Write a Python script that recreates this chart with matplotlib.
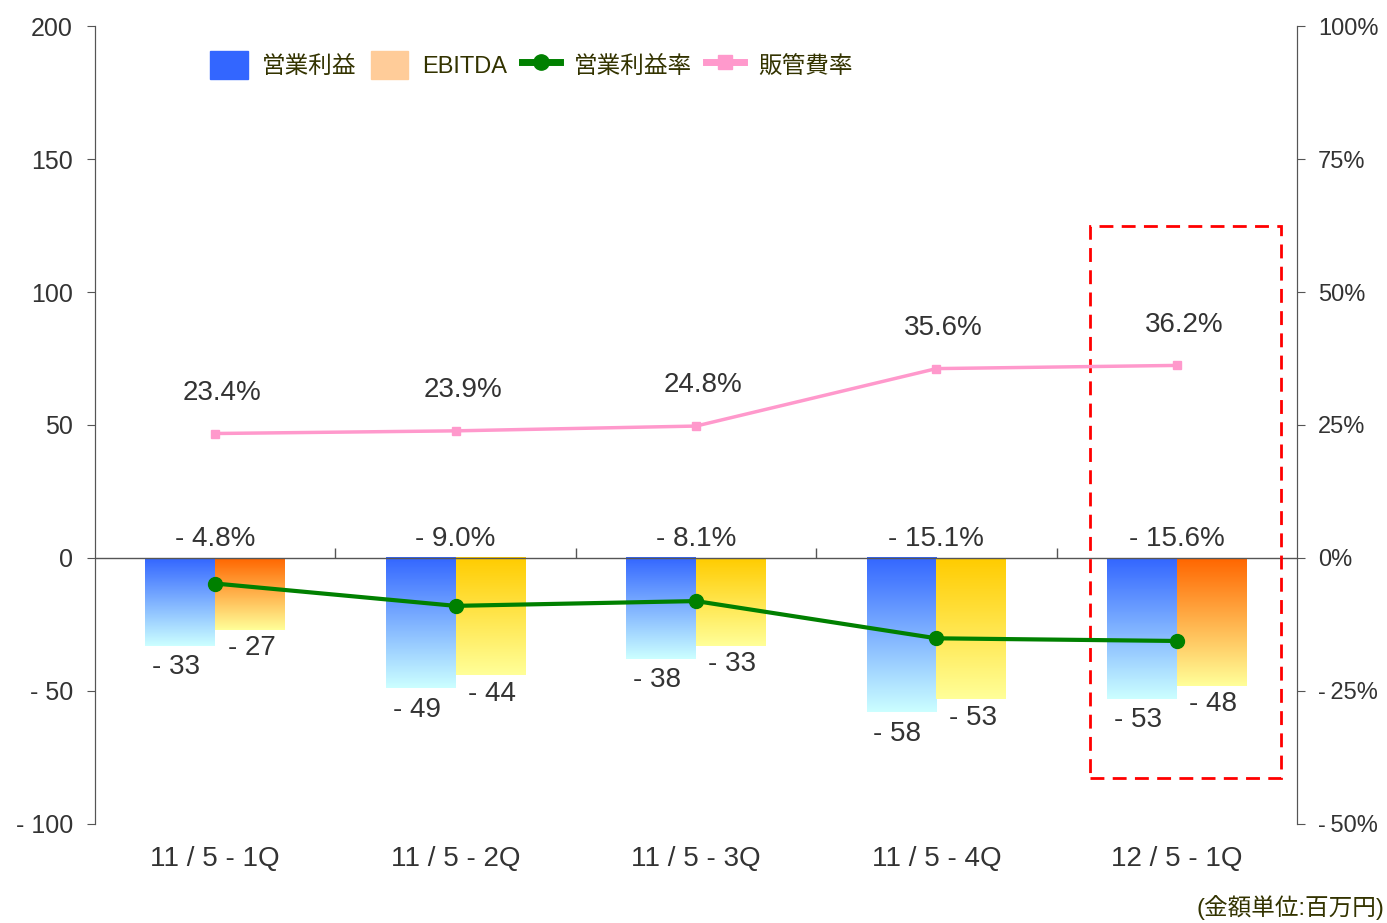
import matplotlib.pyplot as plt
import numpy as np
from matplotlib.colors import LinearSegmentedColormap
from matplotlib.lines import Line2D
from matplotlib.patches import Patch, Rectangle

plt.rcParams['font.family'] = ['Liberation Sans', 'Noto Sans CJK JP']

# data
categories = ['11 / 5 - 1Q', '11 / 5 - 2Q', '11 / 5 - 3Q', '11 / 5 - 4Q', '12 / 5 - 1Q']
op_profit = [-33, -49, -38, -58, -53]
ebitda = [-27, -44, -33, -53, -48]
op_margin = [-4.8, -9.0, -8.1, -15.1, -15.6]
sga_ratio = [23.4, 23.9, 24.8, 35.6, 36.2]

txt = '#333333'
fig = plt.figure(figsize=(13.87, 9.23), dpi=100)
ax = fig.add_axes([0.0685, 0.1073, 0.8666, 0.8645])
ax2 = ax.twinx()

x = np.arange(len(categories))
w = 0.29

bars1 = ax.bar(x - w / 2, op_profit, w, color='none', edgecolor='none')
bars2 = ax.bar(x + w / 2, ebitda, w, color='none', edgecolor='none')

# gradient fills (dark at the zero line, light at the bar end)
grad = np.linspace(0, 1, 256).reshape(-1, 1)
blue_cm = LinearSegmentedColormap.from_list('b', ['#3366FF', '#CCFFFF'])
ebitda_tops = ['#FF6600', '#FFCC00', '#FFCC00', '#FFCC00', '#FF6600']
for b in bars1:
    x0 = b.get_x()
    ax.imshow(grad, cmap=blue_cm, extent=[x0, x0 + b.get_width(), b.get_height(), 0],
              aspect='auto', zorder=2, origin='upper')
for b, top in zip(bars2, ebitda_tops):
    cm = LinearSegmentedColormap.from_list('o', [top, '#FFFF99'])
    x0 = b.get_x()
    ax.imshow(grad, cmap=cm, extent=[x0, x0 + b.get_width(), b.get_height(), 0],
              aspect='auto', zorder=2, origin='upper')

for b, v in zip(bars1, op_profit):
    ax.annotate('- %d' % abs(v), (b.get_x() + b.get_width() / 2, v), xytext=(-3, -6),
                textcoords='offset points', ha='center', va='top', fontsize=20, color=txt)
for b, v in zip(bars2, ebitda):
    ax.annotate('- %d' % abs(v), (b.get_x() + b.get_width() / 2, v), xytext=(1, -4),
                textcoords='offset points', ha='center', va='top', fontsize=20, color=txt)

ax.set_xlim(-0.5, len(categories) - 0.5)
ax.set_ylim(-100, 200)
ax2.set_ylim(-50, 100)

# zero line and small category ticks
ax.axhline(0, color='#555555', lw=1, zorder=3)
ax.vlines(x[:-1] + 0.5, 0, 3.6, color='#555555', lw=1, zorder=3)

ax2.plot(x, op_margin, color='#008000', lw=3, marker='o', ms=10, zorder=5)
ax2.plot(x, sga_ratio, color='#FF99CC', lw=2.5, marker='s', ms=6, zorder=5)

for xi, v in zip(x, op_margin):
    ax2.annotate('- %.1f%%' % abs(v), (xi, 0), xytext=(0, 4), textcoords='offset points',
                 ha='center', va='bottom', fontsize=20, color=txt)
for xi, v in zip(x, sga_ratio):
    ax2.annotate('%.1f%%' % v, (xi, v), xytext=(5, 20), textcoords='offset points',
                 ha='center', va='bottom', fontsize=20, color=txt)

# highlight box
ax.add_patch(Rectangle((3.638, -82.7), 0.795, 207.7, fill=False, edgecolor='#FF0000',
                       lw=2, ls=(0, (5, 3)), zorder=6, clip_on=False))

yt = [-100, -50, 0, 50, 100, 150, 200]
ax.set_yticks(yt)
ax.set_yticklabels([('- %d' % abs(t)) if t < 0 else str(t) for t in yt])
pt = [-50, -25, 0, 25, 50, 75, 100]
ax2.set_yticks(pt)
ax2.set_yticklabels([('-\u2009%d%%' % abs(t)) if t < 0 else '%d%%' % t for t in pt])

ax.set_xticks(x)
ax.set_xticklabels(categories)
ax.tick_params(axis='x', length=0, pad=16, labelsize=20, labelcolor=txt)
ax.tick_params(axis='y', length=6, labelsize=18, labelcolor=txt, color='#555555', pad=10)
ax2.tick_params(axis='y', length=6, labelsize=17, labelcolor=txt, color='#555555', pad=9)

for a in (ax, ax2):
    a.spines['top'].set_visible(False)
    a.spines['bottom'].set_visible(False)
    a.spines['left'].set_color('#555555')
    a.spines['right'].set_color('#555555')

handles = [Patch(color='#3366FF'), Patch(color='#FFCC99'),
           Line2D([], [], color='#008000', lw=5, marker='o', ms=11),
           Line2D([], [], color='#FF99CC', lw=5, marker='s', ms=10)]
labels = ['営業利益', 'EBITDA', '営業利益率', '販管費率']
leg = ax.legend(handles, labels, ncol=4, loc='upper left', bbox_to_anchor=(0.078, 0.995),
                frameon=False, fontsize=17, handlelength=1.6, handleheight=1.4,
                columnspacing=0.6, handletextpad=0.6, labelcolor='#333300')

fig.text(0.998, 0.003, '(金額単位:百万円)', ha='right', va='bottom', fontsize=17, color='#333300')

fig.savefig('out.png', dpi=100)
